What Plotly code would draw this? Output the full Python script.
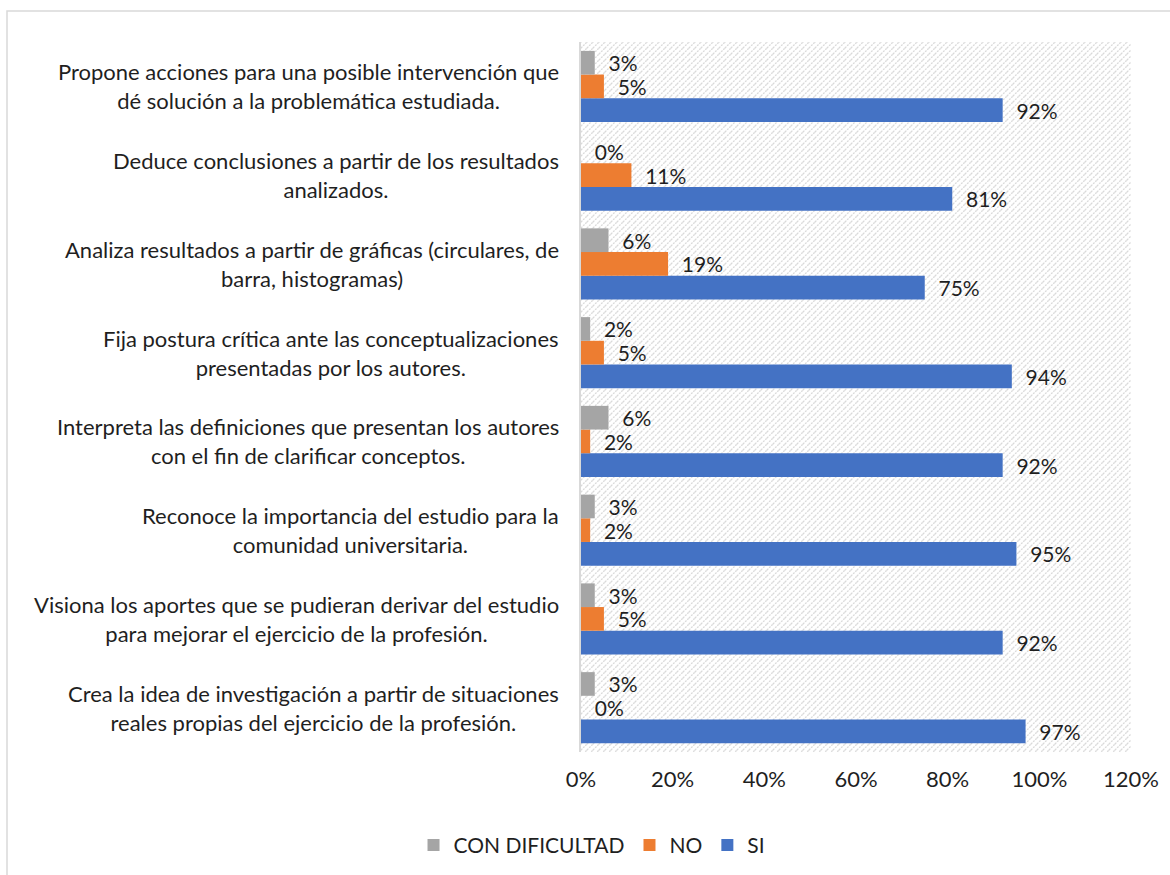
import base64
import plotly.graph_objects as go

categories = [
    "Propone acciones para una posible intervención que<br>dé solución a la problemática estudiada.",
    "Deduce conclusiones a partir de los resultados<br>analizados.",
    "Analiza resultados a partir de gráficas (circulares, de<br>barra, histogramas)",
    "Fija postura crítica ante las conceptualizaciones<br>presentadas por los autores.",
    "Interpreta las definiciones que presentan los autores<br>con el fin de clarificar conceptos.",
    "Reconoce la importancia del estudio para la<br>comunidad universitaria.",
    "Visiona los aportes que se pudieran derivar del estudio<br>para mejorar el ejercicio de la profesión.",
    "Crea la idea de investigación a partir de situaciones<br>reales propias del ejercicio de la profesión.",
]
si = [0.92, 0.81, 0.75, 0.94, 0.92, 0.95, 0.92, 0.97]
no = [0.05, 0.11, 0.19, 0.05, 0.02, 0.02, 0.05, 0.00]
con_dificultad = [0.03, 0.00, 0.06, 0.02, 0.06, 0.03, 0.03, 0.03]
x_ticks = [0, 0.2, 0.4, 0.6, 0.8, 1.0, 1.2]

FONT = "Lato"
TXT = "#1f1f1f"
W, H = 1170, 875
ML, MR, MT, MB = 581, 39, 42, 123
PW, PH = W - ML - MR, H - MT - MB

fig = go.Figure()
series = [("SI", si, "#4472C4"), ("NO", no, "#ED7D31"), ("CON DIFICULTAD", con_dificultad, "#A5A5A5")]
for name, vals, color in series:
    fig.add_trace(go.Bar(
        name=name, y=categories, x=vals, orientation="h",
        marker=dict(color=color, line=dict(width=0)),
        texttemplate="\u00a0\u00a0%{x:.0%}", textposition="outside",
        textfont=dict(family=FONT, size=21, color=TXT),
        constraintext="none", cliponaxis=False,
        hoverinfo="skip",
    ))

# category labels (centered multi-line)
for c in categories:
    fig.add_annotation(
        x=0, xref="paper", y=c, yref="y", text=c, showarrow=False,
        xanchor="right", align="center", xshift=-20,
        font=dict(family=FONT, size=22, color=TXT),
    )

# hatched background image
svg = (
    f'<svg xmlns="http://www.w3.org/2000/svg" width="{PW}" height="{PH}">'
    '<defs><pattern id="p" width="6" height="6" patternUnits="userSpaceOnUse">'
    '<path d="M0,6 L6,0 M-1,1 L1,-1 M5,7 L7,5" stroke="#dadada" stroke-width="1.3" '
    'stroke-dasharray="2,1"/>'
    '</pattern></defs>'
    f'<rect width="{PW}" height="{PH}" fill="white"/>'
    f'<rect width="{PW}" height="{PH}" fill="url(#p)"/></svg>'
)
src = "data:image/svg+xml;base64," + base64.b64encode(svg.encode()).decode()
fig.add_layout_image(dict(
    source=src, xref="paper", yref="paper", x=0, y=1, sizex=1, sizey=1,
    xanchor="left", yanchor="top", sizing="stretch", layer="below",
))

# outer chart border (left/top visible)
fig.add_shape(
    type="rect", xref="paper", yref="paper",
    x0=(7 - ML) / PW, x1=(W + 5 - ML) / PW,
    y0=(PH + MT - 11) / PH, y1=-(MB + 5) / PH,
    line=dict(color="#D9D9D9", width=1.5), fillcolor="rgba(0,0,0,0)", layer="below",
)

fig.update_layout(
    width=W, height=H,
    margin=dict(l=ML, r=MR, t=MT, b=MB),
    paper_bgcolor="white", plot_bgcolor="rgba(0,0,0,0)",
    barmode="group", bargap=0.2, bargroupgap=0,
    font=dict(family=FONT, size=21, color=TXT),
    showlegend=True,
    legend=dict(
        orientation="h", xref="container", yref="container",
        x=0.506, xanchor="center", y=0.034, yanchor="middle",
        traceorder="reversed", font=dict(family=FONT, size=21, color=TXT),
        itemwidth=30,
    ),
)
fig.update_xaxes(
    range=[0, 1.2], tickvals=x_ticks, tickformat=".0%",
    showgrid=False, zeroline=False, showline=False, ticks="",
    tickfont=dict(family=FONT, size=22, color=TXT), ticklabelstandoff=12,
)
fig.update_yaxes(
    categoryorder="array", categoryarray=list(reversed(categories)),
    showticklabels=False, showgrid=False, zeroline=False,
    showline=True, linecolor="#D9D9D9", linewidth=2, ticks="",
)

fig.write_html("out.html", config={"displayModeBar": False})
